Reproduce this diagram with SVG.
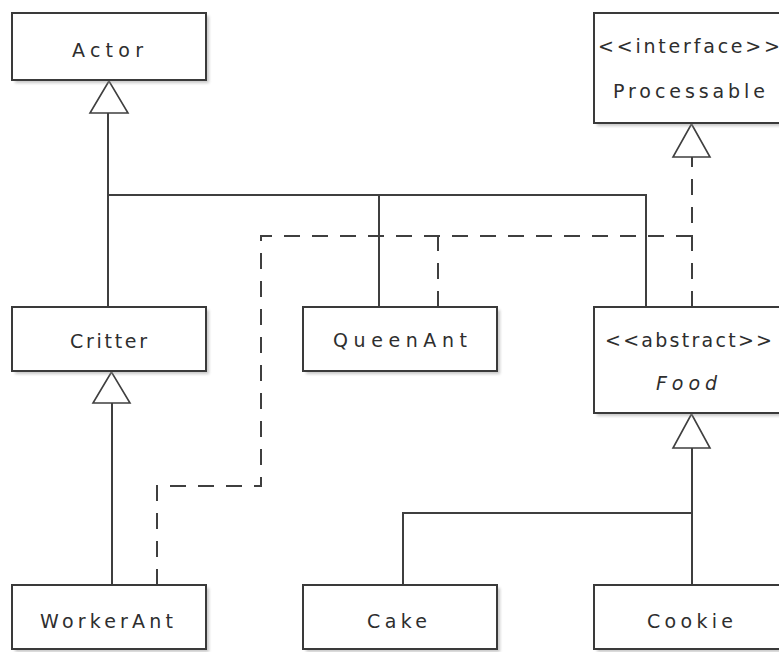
<svg xmlns="http://www.w3.org/2000/svg" width="779" height="652" viewBox="0 0 779 652">
<style>
.box{fill:#fff;stroke:#3a3a3a;stroke-width:2}
.sh{fill:#9a9a9a;opacity:.55;filter:url(#blur)}
.t{font-family:"DejaVu Sans","Liberation Sans",Arial,sans-serif;font-size:19px;fill:#2e2e2e;text-anchor:middle}
.ln{fill:none;stroke:#3f3f3f;stroke-width:2}
.dash{fill:none;stroke:#3f3f3f;stroke-width:2;stroke-dasharray:16 12}
.tri{fill:#fff;stroke:#3f3f3f;stroke-width:1.6}
</style>
<defs>
<filter id="blur" x="-10%" y="-10%" width="120%" height="120%"><feGaussianBlur stdDeviation="1.5"/></filter>
</defs>
<rect width="779" height="652" fill="#fff"/>
<g id="connectors">
<path class="ln" d="M108 113V307M108 195H646V307M379 195V307"/>
<path class="ln" d="M112 403V585"/>
<path class="ln" d="M692 448V585M403 585V513H692"/>
<path class="dash" d="M157 585V486H261V236H692"/>
<path class="dash" d="M438 307V236"/>
<path class="dash" d="M692 307V157"/>
<polygon class="tri" points="109,81 90,113 128,113"/>
<polygon class="tri" points="111.5,372 93,403 130,403"/>
<polygon class="tri" points="691.5,124 673,157 710,157"/>
<polygon class="tri" points="691.5,414 673,448 710,448"/>
</g>
<g id="Actor">
<rect class="sh" x="15" y="16" width="194" height="67"/>
<rect class="box" x="12" y="13" width="194" height="67"/>
<text class="t" x="107.5" y="57" textLength="71" lengthAdjust="spacing">Actor</text>
</g>
<g id="Processable">
<rect class="sh" x="597" y="16" width="194" height="110"/>
<rect class="box" x="594" y="13" width="194" height="110"/>
<text class="t" x="689" y="53" textLength="182" lengthAdjust="spacing">&lt;&lt;interface&gt;&gt;</text>
<text class="t" x="689" y="98" textLength="152" lengthAdjust="spacing">Processable</text>
</g>
<g id="Critter">
<rect class="sh" x="15" y="310" width="194" height="64"/>
<rect class="box" x="12" y="307" width="194" height="64"/>
<text class="t" x="108.5" y="348" textLength="77" lengthAdjust="spacing">Critter</text>
</g>
<g id="QueenAnt">
<rect class="sh" x="306" y="310" width="194" height="64"/>
<rect class="box" x="303" y="307" width="194" height="64"/>
<text class="t" x="400" y="347" textLength="134" lengthAdjust="spacing">QueenAnt</text>
</g>
<g id="Food">
<rect class="sh" x="597" y="310" width="194" height="106"/>
<rect class="box" x="594" y="307" width="194" height="106"/>
<text class="t" x="688.5" y="347" textLength="167" lengthAdjust="spacing">&lt;&lt;abstract&gt;&gt;</text>
<text class="t" x="686.5" y="390" font-style="italic" textLength="61" lengthAdjust="spacing">Food</text>
</g>
<g id="WorkerAnt">
<rect class="sh" x="15" y="588" width="194" height="64"/>
<rect class="box" x="12" y="585" width="194" height="64"/>
<text class="t" x="106.5" y="628" textLength="133" lengthAdjust="spacing">WorkerAnt</text>
</g>
<g id="Cake">
<rect class="sh" x="306" y="588" width="194" height="64"/>
<rect class="box" x="303" y="585" width="194" height="64"/>
<text class="t" x="397" y="628" textLength="60" lengthAdjust="spacing">Cake</text>
</g>
<g id="Cookie">
<rect class="sh" x="597" y="588" width="194" height="64"/>
<rect class="box" x="594" y="585" width="194" height="64"/>
<text class="t" x="690" y="628" textLength="86" lengthAdjust="spacing">Cookie</text>
</g>
</svg>
